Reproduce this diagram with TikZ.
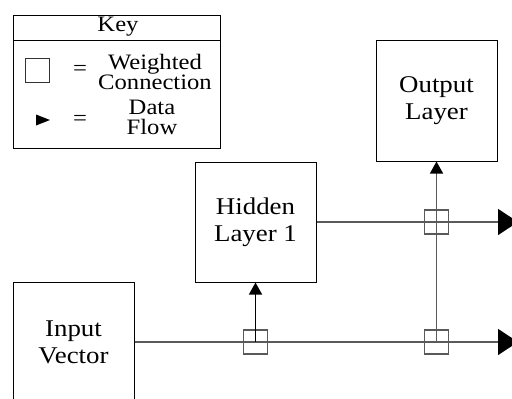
\documentclass[tikz,border=0pt]{standalone}
\usepackage{fontspec}
\setmainfont{Liberation Serif}[FakeStretch=1.12]
\usetikzlibrary{arrows.meta}
\definecolor{linegray}{HTML}{5a5a5a}
\tikzset{
  layerbox/.style={draw=black, line width=1pt, minimum width=121pt, minimum height=120pt, inner sep=0pt, align=center, font=\fontsize{24}{27}\selectfont},
  wbox/.style={draw=linegray, line width=1.2pt, minimum width=24pt, minimum height=24pt, inner sep=0pt},
  conn/.style={draw=linegray, line width=1.3pt},
  bigtip/.style={-{Triangle[length=20pt,width=26pt,color=black]}},
  smalltip/.style={-{Triangle[length=12pt,width=13pt,color=black]}},
  keytext/.style={align=center, inner sep=0pt, font=\fontsize{22}{20}\selectfont},
}
\begin{document}
\begin{tikzpicture}[x=1pt, y=-1pt]
\useasboundingbox (0,0) rectangle (512,399);
% key
\draw[line width=1pt] (13,15) rectangle (220,148);
\draw[line width=1pt] (13,40) -- (220,40);
\node[keytext] (keylabel) at (118,26.5) {Key};
\node[wbox, draw=black!80, line width=1pt] (keysq) at (37.5,70) {};
\node[keytext] (eq1) at (80,70) {=};
\node[keytext] (wc) at (155,72) {Weighted\\Connection};
\fill (36,114.5) -- (50,120) -- (36,125.5) -- cycle;
\node[keytext] (eq2) at (80,120) {=};
\node[keytext] (df) at (152,117) {Data\\Flow};
% layers
\node[layerbox] (input) at (73.5,342) {Input\\Vector};
\node[layerbox] (hidden) at (255.5,222) {Hidden\\Layer 1};
\node[layerbox, minimum height=121pt] (output) at (436.5,100.5) {Output\\Layer};
% weights
\node[wbox] (w1) at (255.5,342) {};
\node[wbox] (w2) at (436.5,342) {};
\node[wbox] (w3) at (436.5,222) {};
\coordinate (o1) at (518,222);
\coordinate (o2) at (518,342);
% connectors
\draw[conn, bigtip] (input.east) -- (o2);
\draw[conn, bigtip] (hidden.east) -- (o1);
\draw[line width=1.3pt, smalltip] (w1.center) -- (hidden.south);
\draw[conn, smalltip] (w2.center) -- (output.south);
\end{tikzpicture}
\end{document}
